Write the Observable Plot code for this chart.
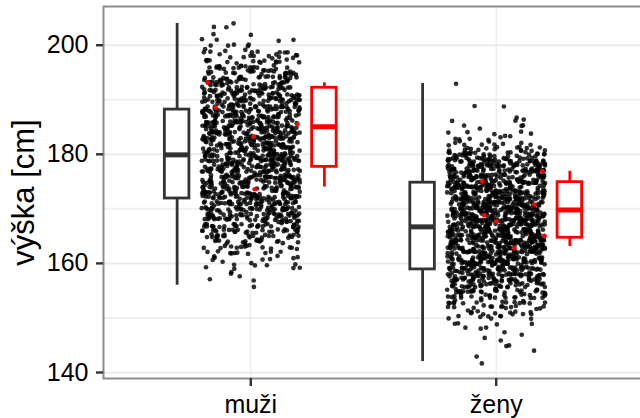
<!DOCTYPE html>
<html>
<head>
<meta charset="utf-8">
<script src="https://cdn.jsdelivr.net/npm/d3@7"></script>
<script src="https://cdn.jsdelivr.net/npm/@observablehq/plot@0.6"></script>
<style>
  html, body { margin: 0; padding: 0; background: #fff; overflow: hidden; }
  #chart { width: 640px; height: 418px; }
</style>
</head>
<body>
<div id="chart"></div>
<script>
// ---- data ----
const categories = ["muži", "ženy"];
const yTicks = [140, 160, 180, 200];
const yMinorTicks = [150, 170, 190];
const yDomain = [138.9, 207.1];
const yTitle = "výška [cm]";

// box statistics, whole group (black)
const boxMin    = [156.0, 142.0];
const boxQ1     = [171.9, 158.9];
const boxMedian = [179.9, 166.7];
const boxQ3     = [188.2, 174.8];
const boxMax    = [204.0, 193.0];

// box statistics, sample (red)
const sampleMin    = [174.0, 163.1];
const sampleQ1     = [177.7, 164.7];
const sampleMedian = [185.05, 169.8];
const sampleQ3     = [192.2, 174.9];
const sampleMax    = [193.1, 176.9];

// number of people per whole centimetre of height
const menStart = 156;
const menCounts = [1,2,3,4,6,8,10,14,18,22,26,30,33,36,38,40,40,41,41,42,42,43,41,44,43,40,42,43,41,42,40,41,39,38,37,35,32,30,27,23,19,15,12,10,5,4,2,2,1];
const womenStart = 142;
const womenCounts = [1,1,1,2,2,2,3,4, 8,12,14,16,24,28,34,38, 44,48,50,52, 54,56,57,58,57,58,57,58,56,56,54,54,52,50,48,47,44,41, 30,16,10,7,5,4,3,1,0,2,0,0,0,1];

// sample members (red points)
const sampleGroup  = ["muži","muži","muži","muži","muži","ženy","ženy","ženy","ženy","ženy","ženy","ženy"];
const sampleHeight = [193.2, 188.6, 185.5, 183.3, 173.6, 175.0, 176.9, 170.8, 168.8, 167.7, 165.0, 162.8];
const sampleJitter = [-0.176, -0.143, 0.19, 0.012, 0.016, -0.057, 0.188, 0.155, -0.049, 0.0, 0.196, 0.074];

// ---- build tables ----
const pos = c => categories.indexOf(c) + 1;
const boxes = categories.map((c, i) => ({cat: c, min: boxMin[i], q1: boxQ1[i], median: boxMedian[i], q3: boxQ3[i], max: boxMax[i]}));
const sboxes = categories.map((c, i) => ({cat: c, min: sampleMin[i], q1: sampleQ1[i], median: sampleMedian[i], q3: sampleQ3[i], max: sampleMax[i]}));

function expand(cat, start, counts) {
  const out = [];
  counts.forEach((n, j) => { for (let k = 0; k < n; k++) out.push({cat, height: start + j}); });
  return out;
}
const people = [...expand("muži", menStart, menCounts), ...expand("ženy", womenStart, womenCounts)];

// deterministic integer-hash jitter (like geom_jitter): ±0.2 category width, ±0.4 cm
function hash01(i, seed) {
  let h = Math.imul(i + 1, 374761393) ^ Math.imul(seed, 668265263);
  h = Math.imul(h ^ (h >>> 13), 1274126177);
  h ^= h >>> 16;
  h = Math.imul(h, 2246822519);
  h ^= h >>> 13;
  return (h >>> 0) / 4294967296;
}
const jx = (d, i) => pos(d.cat) + 0.4 * (hash01(i, 17) - 0.5);
const jy = (d, i) => d.height + 0.8 * (hash01(i, 91) - 0.5);

const samples = sampleGroup.map((g, i) => ({cat: g, height: sampleHeight[i], jit: sampleJitter[i]}));

const OFF = 0.3, HW = 0.05;
function boxMarks(data, side, color) {
  const cx = d => pos(d.cat) + side * OFF;
  return [
    Plot.ruleX(data, {x: cx, y1: "min", y2: "q1", stroke: color, strokeWidth: 2.8}),
    Plot.ruleX(data, {x: cx, y1: "q3", y2: "max", stroke: color, strokeWidth: 2.8}),
    Plot.rect(data, {x1: d => cx(d) - HW, x2: d => cx(d) + HW, y1: "q1", y2: "q3", fill: "white", stroke: color, strokeWidth: 2.8}),
    Plot.ruleY(data, {y: "median", x1: d => cx(d) - HW, x2: d => cx(d) + HW, stroke: color, strokeWidth: 5})
  ];
}

const chart = Plot.plot({
  width: 640,
  height: 418,
  marginLeft: 103,
  marginRight: -3,
  marginTop: 6,
  marginBottom: 40,
  style: {fontFamily: "'Liberation Sans', Arial, Helvetica, sans-serif", background: "white", color: "black"},
  x: {domain: [0.4, 2.6]},
  y: {domain: yDomain},
  marks: [
    Plot.ruleY(yMinorTicks, {stroke: "#efefef", strokeWidth: 2}),
    Plot.ruleY(yTicks, {stroke: "#ebebeb", strokeWidth: 2}),
    Plot.ruleX([1, 2], {stroke: "#e6e6e6", strokeWidth: 1}),
    ...boxMarks(boxes, -1, "#333333"),
    Plot.dot(people, {x: jx, y: jy, r: 2.35, fill: "black", fillOpacity: 0.82, stroke: null}),
    Plot.dot(samples, {x: d => pos(d.cat) + d.jit, y: "height", r: 2.35, fill: "red", stroke: null}),
    ...boxMarks(sboxes, 1, "red"),
    Plot.frame({stroke: "#8c8c8c", strokeWidth: 2}),
    Plot.axisY({ticks: yTicks, tickSize: 7, tickPadding: 8, fontSize: 25, stroke: "#333", strokeWidth: 2.4, fill: "black", label: null}),
    Plot.axisX({ticks: [1, 2], tickFormat: d => categories[d - 1], tickSize: 8, tickPadding: 9, fontSize: 25, stroke: "#333", strokeWidth: 2.4, fill: "black", label: null}),
    Plot.text([yTitle], {text: d => d, x: () => 0.4, y: () => (yDomain[0] + yDomain[1]) / 2, dx: -79, rotate: -90, fontSize: 31, fill: "black", textAnchor: "middle", lineAnchor: "middle"})
  ]
});
document.getElementById("chart").appendChild(chart);
</script>
</body>
</html>
